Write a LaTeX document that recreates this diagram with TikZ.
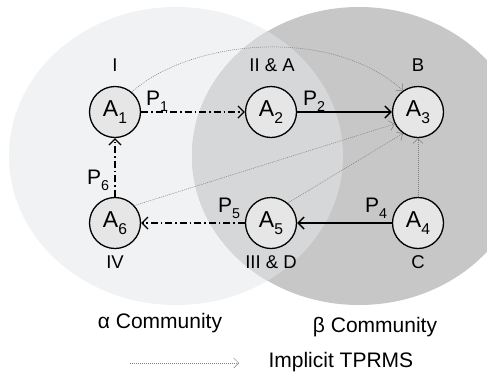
\documentclass[tikz,border=0pt]{standalone}
\usepackage{fontspec}
\setmainfont{Liberation Sans}
\usetikzlibrary{arrows.meta}
\definecolor{alphabg}{HTML}{F1F2F3}
\definecolor{betabg}{HTML}{C7C7C7}
\definecolor{overbg}{HTML}{D6D7D8}
\definecolor{nodebg}{HTML}{E6E6E6}
\newcommand\lowsub[1]{\raisebox{-0.3em}{\scalebox{0.68}{#1}}}
\begin{document}
\begin{tikzpicture}[x=1pt,y=-1pt,
  agent/.style={circle,draw=black,line width=1.3pt,fill=nodebg,minimum size=51pt,inner sep=0pt,font=\fontsize{23}{23}\selectfont},
  tag/.style={font=\fontsize{18.5}{18.5}\selectfont},
  plabel/.style={font=\fontsize{21}{21}\selectfont},
  comm/.style={font=\fontsize{21}{21}\selectfont},
  dashdotarrow/.style={line width=1.2pt,dash pattern=on 7pt off 3pt on 1.5pt off 3pt,-{Straight Barb[length=6pt,width=12pt,line width=1.2pt]}},
  solidarrow/.style={line width=1.4pt,-{Straight Barb[length=6pt,width=12pt,line width=1.4pt]}},
  implicit/.style={gray,line width=0.5pt,dash pattern=on 1pt off 1pt,-{Straight Barb[length=5pt,width=10pt,line width=0.5pt]}}
]
\useasboundingbox (0,0) rectangle (487,373);
\fill[white] (0,0) rectangle (487,373);
% communities
\fill[alphabg] (176,156) ellipse [x radius=167, y radius=149];
\fill[betabg] (359,156) ellipse [x radius=167, y radius=149];
\begin{scope}
  \clip (176,156) ellipse [x radius=167, y radius=149];
  \fill[overbg] (359,156) ellipse [x radius=167, y radius=149];
\end{scope}
% agents
\node[agent] (A1) at (115,112) {A\lowsub{1}};
\node[agent] (A2) at (271,112) {A\lowsub{2}};
\node[agent] (A3) at (418,112) {A\lowsub{3}};
\node[agent] (A6) at (115,223) {A\lowsub{6}};
\node[agent] (A5) at (271,223) {A\lowsub{5}};
\node[agent] (A4) at (418,223) {A\lowsub{4}};
% role tags
\node[tag] (t1) at (115,65) {I};
\node[tag] (t2) at (272,65) {II \& A};
\node[tag] (t3) at (418,65) {B};
\node[tag] (t6) at (115,262) {IV};
\node[tag] (t5) at (271,262) {III \& D};
\node[tag] (t4) at (418,262) {C};
% explicit paths
\draw[dashdotarrow] (A1) -- (A2);
\draw[solidarrow] (A2) -- (A3);
\draw[solidarrow] (A4) -- (A5);
\draw[dashdotarrow] (A5) -- (A6);
\draw[dashdotarrow] (A6) -- (A1);
\node[plabel] (p1) at (157,101) {P\lowsub{1}};
\node[plabel] (p2) at (314,101) {P\lowsub{2}};
\node[plabel] (p6) at (98,180) {P\lowsub{6}};
\node[plabel] (p5) at (229,208) {P\lowsub{5}};
\node[plabel] (p4) at (376,208) {P\lowsub{4}};
% implicit paths
\draw[implicit] (A1.50) .. controls (190,40) and (330,25) .. (A3.125);
\draw[implicit] (A6.42) -- (A3.207);
\draw[implicit] (A5.50) -- (A3.235);
\draw[implicit] (A4) -- (A3);
% community labels
\node[comm] (ca) at (160,323) {α Community};
\node[comm] (cb) at (375,327) {β Community};
% legend
\coordinate (l1) at (130,363);
\coordinate (l2) at (239,363);
\draw[implicit] (l1) -- (l2);
\node[comm,anchor=west] (lg) at (265,362) {Implicit TPRMS};
\end{tikzpicture}
\end{document}
